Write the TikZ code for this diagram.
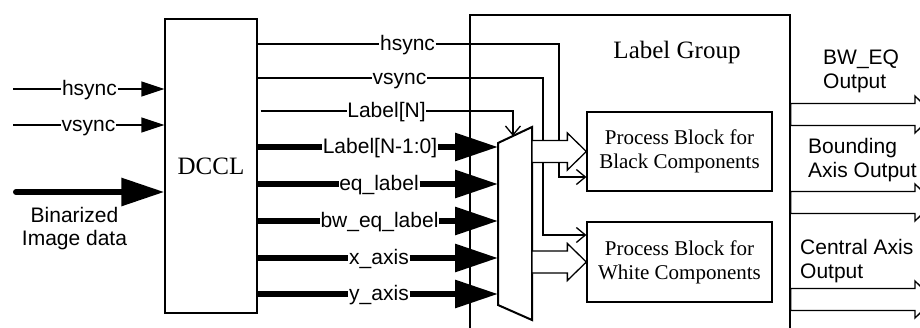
\documentclass[tikz,border=0pt]{standalone}
\usepackage{fontspec}
\setmainfont{Liberation Serif}
\setsansfont{Liberation Sans}
\usetikzlibrary{positioning,calc,arrows.meta}
\tikzset{
  wire/.style   = {line width=1.3pt},
  bus/.style    = {line width=6pt},
  blk/.style    = {draw, line width=1.3pt, inner sep=0pt, align=center},
  lbl/.style    = {font=\sffamily\fontsize{21}{24}\selectfont, inner sep=0.6pt,
                   text height=15pt, text depth=3pt},
  olbl/.style   = {font=\sffamily\fontsize{21}{24}\selectfont, inner sep=0pt,
                   align=left, anchor=north west},
  shead/.style  = {-{Triangle[length=23pt,width=15pt]}},
  bhead/.style  = {-{Triangle[length=43pt,width=27pt]}},
  barb/.style   = {-{Straight Barb[length=9pt,width=15pt]}},
  hollow/.style = {draw, fill=white, line width=1.3pt,
    to path={let \p1=(\tikztostart), \p2=(\tikztotarget) in
      (\x1,\y1+11pt) -- (\x2-19pt,\y1+11pt) -- (\x2-19pt,\y1+18.5pt) -- (\x2,\y1)
      -- (\x2-19pt,\y1-18.5pt) -- (\x2-19pt,\y1-11pt) -- (\x1,\y1-11pt) -- cycle}},
}

\begin{document}
\begin{tikzpicture}[x=1pt,y=-1pt]
  \useasboundingbox (0,0) rectangle (920,327);
  \clip (0,0) rectangle (920,327);
  % blocks
  \node[blk, minimum width=320pt, minimum height=325pt] (lg) at (630,177.5) {};
  \node[font=\fontsize{25}{28}\selectfont, anchor=base] (lgt) at (677,58) {Label Group};
  \node[blk, fill=white, minimum width=92pt, minimum height=294pt,
        font=\fontsize{25}{28}\selectfont] (dccl) at (211,166) {DCCL};
  \node[blk, minimum width=185pt, minimum height=79pt, font=\fontsize{21}{24}\selectfont]
    (pbb) at (679.5,151.5) {Process Block for\\Black Components};
  \node[blk, minimum width=185pt, minimum height=80pt, font=\fontsize{21}{24}\selectfont]
    (pbw) at (679.5,262) {Process Block for\\White Components};
  % selector
  \coordinate (mtl) at (498,143);
  \coordinate (mtr) at (532,127);
  \coordinate (mbr) at (532,320);
  \coordinate (mbl) at (498,305);
  \draw[line width=2pt, fill=white] (mtl) -- (mtr) -- (mbr) -- (mbl) -- cycle;
  \path (mtl) -- (mtr) coordinate[pos=0.44] (mtop);

  % inputs
  \node[lbl] (hsi) at (89.5,89) {hsync};
  \coordinate (hsi0) at (13,89);
  \draw[wire] (hsi0) -- (hsi.west);
  \draw[wire,shead] (hsi.east) -- (hsi.east -| dccl.west);
  \node[lbl] (vsi) at (88.5,125) {vsync};
  \coordinate (vsi0) at (13,125);
  \draw[wire] (vsi0) -- (vsi.west);
  \draw[wire,shead] (vsi.east) -- (vsi.east -| dccl.west);
  \coordinate (bin0) at (16,192);
  \draw[bus,line cap=round,bhead] (bin0) -- (bin0 -| dccl.west);
  \node[font=\sffamily\fontsize{21}{23.5}\selectfont, align=center, inner sep=0pt]
    (bint) at (74.5,228.5) {Binarized\\Image data};

  % control wires
  \node[lbl] (hso) at (407.5,44) {hsync};
  \coordinate (hsb) at (559,177);
  \draw[wire] (dccl.east |- hso) -- (hso.west);
  \draw[wire,barb] (hso.east) -| (hsb) -- (hsb -| pbb.west);
  \node[lbl] (vso) at (399.5,78) {vsync};
  \coordinate (vsb) at (543,235);
  \draw[wire] (dccl.east |- vso) -- (vso.west);
  \draw[wire,barb] (vso.east) -| (vsb) -- (vsb -| pbw.west);
  \node[lbl] (lno) at (386.5,111) {Label[N]};
  \draw[wire] ($(dccl.east |- lno)+(3,0)$) -- (lno.west);
  \draw[wire,barb] (lno.east) -| (mtop);

  % data buses
  \node[lbl] (b1) at (380,147) {Label[N-1:0]};
  \draw[bus] (dccl.east |- b1) -- (b1.west);
  \draw[bus,bhead] (b1.east) -- (b1.east -| mtl);
  \node[lbl] (b2) at (379,184) {eq\_label};
  \draw[bus] (dccl.east |- b2) -- (b2.west);
  \draw[bus,bhead] (b2.east) -- (b2.east -| mtl);
  \node[lbl] (b3) at (379.5,221) {bw\_eq\_label};
  \draw[bus] (dccl.east |- b3) -- (b3.west);
  \draw[bus,bhead] (b3.east) -- (b3.east -| mtl);
  \node[lbl] (b4) at (379,258) {x\_axis};
  \draw[bus] (dccl.east |- b4) -- (b4.west);
  \draw[bus,bhead] (b4.east) -- (b4.east -| mtl);
  \node[lbl] (b5) at (379,294) {y\_axis};
  \draw[bus] (dccl.east |- b5) -- (b5.west);
  \draw[bus,bhead] (b5.east) -- (b5.east -| mtl);

  % selector to process blocks
  \draw[hollow] (mtr |- pbb.west) to (pbb.west);
  \draw[hollow] (mtr |- pbw.west) to (pbw.west);

  % outputs
  \coordinate (o1) at (934,114.5);
  \coordinate (o2) at (934,202.5);
  \coordinate (o3) at (934,299.5);
  \draw[hollow] (lg.east |- o1) to (o1);
  \draw[hollow] (lg.east |- o2) to (o2);
  \draw[hollow] (lg.east |- o3) to (o3);
  \node[olbl] (t1) at (823,49.5) {BW\_EQ\\Output};
  \node[olbl] (t2) at (808,138) {Bounding\\Axis Output};
  \node[olbl] (t3) at (800,239) {Central Axis\\Output};
\end{tikzpicture}
\end{document}
